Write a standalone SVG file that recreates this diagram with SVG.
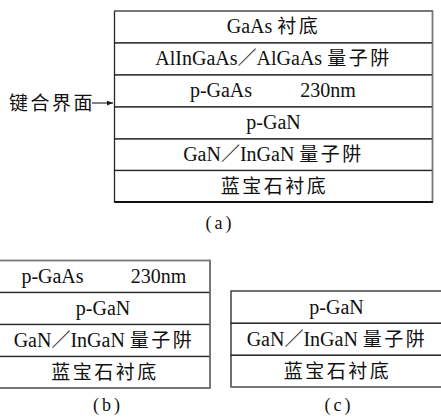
<svg xmlns="http://www.w3.org/2000/svg" width="441" height="417" viewBox="0 0 441 417">
<style>
  .bg{fill:#ffffff}
  .layer{fill:#ffffff;stroke:#262626;stroke-width:1.3}
  .lat{font-family:"Liberation Serif","Times New Roman","DejaVu Serif",serif;font-size:20px;fill:#111}
  .sl{font-family:"Noto Sans CJK SC","Noto Sans CJK JP",sans-serif;font-size:19px}
  .cjk{font-family:"Noto Sans CJK SC","Noto Sans CJK JP",sans-serif;font-size:19px;letter-spacing:2.5px;fill:#111}
  .cap{font-family:"Liberation Serif","Times New Roman","DejaVu Serif",serif;font-size:18px;letter-spacing:3px;fill:#111;text-anchor:middle}
  .mid{text-anchor:middle}
  .conn{stroke:#1a1a1a;stroke-width:1.1;fill:none}
  .edge-light{stroke:#7a7a7a;stroke-width:1.4;fill:none}
  .edge-dark{stroke:#111;stroke-width:2;fill:none}
</style>
<defs>
  <marker id="ah" viewBox="0 0 10 8" refX="10" refY="4" markerWidth="6" markerHeight="5" orient="auto" markerUnits="userSpaceOnUse">
    <path d="M0,0 L10,4 L0,8 Z" fill="#1a1a1a"/>
  </marker>
</defs>
<rect class="bg" x="0" y="0" width="441" height="417"/>

<!-- Panel (a) -->
<g id="panel-a">
  <g id="a-gaas-sub">
    <rect class="layer" x="114.5" y="11" width="318" height="32"/>
    <text class="lat mid" x="273.5" y="33.3">GaAs <tspan class="cjk">衬底</tspan></text>
  </g>
  <g id="a-alingaas-qw">
    <rect class="layer" x="114.5" y="43" width="318" height="32"/>
    <text class="lat mid" x="273.5" y="65.3">AlInGaAs<tspan class="sl">／</tspan>AlGaAs <tspan class="cjk">量子阱</tspan></text>
  </g>
  <g id="a-pgaas">
    <rect class="layer" x="114.5" y="75" width="318" height="32"/>
    <text class="lat mid" x="221" y="97.3">p-GaAs</text>
    <text class="lat mid" x="328" y="97.3">230nm</text>
  </g>
  <g id="a-pgan">
    <rect class="layer" x="114.5" y="107" width="318" height="32"/>
    <text class="lat mid" x="273.5" y="129.3">p-GaN</text>
  </g>
  <g id="a-gan-qw">
    <rect class="layer" x="114.5" y="139" width="318" height="31.5"/>
    <text class="lat mid" x="273.5" y="161">GaN<tspan class="sl">／</tspan>InGaN <tspan class="cjk">量子阱</tspan></text>
  </g>
  <g id="a-sapphire">
    <rect class="layer" x="114.5" y="170.5" width="318" height="31.5"/>
    <text class="cjk mid" x="274.5" y="192.5">蓝宝石衬底</text>
  </g>
  <path class="edge-light" d="M114.5,11 H432.5 V202"/>
  <path class="edge-dark" d="M114.5,202 H433"/>
  <g id="label-bond">
    <text class="cjk" x="9" y="109.5">键合界面</text>
  </g>
  <text class="cap" x="220" y="229">(a)</text>
</g>

<!-- Panel (b) -->
<g id="panel-b">
  <g id="b-pgaas">
    <rect class="layer" x="-2" y="260.5" width="212" height="32"/>
    <text class="lat mid" x="52.5" y="283">p-GaAs</text>
    <text class="lat mid" x="158.5" y="283">230nm</text>
  </g>
  <g id="b-pgan">
    <rect class="layer" x="-2" y="292.5" width="212" height="32"/>
    <text class="lat mid" x="103" y="315">p-GaN</text>
  </g>
  <g id="b-gan-qw">
    <rect class="layer" x="-2" y="324.5" width="212" height="32"/>
    <text class="lat mid" x="104" y="347">GaN<tspan class="sl">／</tspan>InGaN <tspan class="cjk">量子阱</tspan></text>
  </g>
  <g id="b-sapphire">
    <rect class="layer" x="-2" y="356.5" width="212" height="31.5"/>
    <text class="cjk mid" x="105" y="378.5">蓝宝石衬底</text>
  </g>
  <path class="edge-light" d="M0,260.5 H210 V388 H0"/>
  <text class="cap" x="108" y="411">(b)</text>
</g>

<!-- Panel (c) -->
<g id="panel-c">
  <g id="c-pgan">
    <rect class="layer" x="231" y="291" width="212" height="32.3"/>
    <text class="lat mid" x="336.5" y="313.6">p-GaN</text>
  </g>
  <g id="c-gan-qw">
    <rect class="layer" x="231" y="323.3" width="212" height="32"/>
    <text class="lat mid" x="337" y="345.8">GaN<tspan class="sl">／</tspan>InGaN <tspan class="cjk">量子阱</tspan></text>
  </g>
  <g id="c-sapphire">
    <rect class="layer" x="231" y="355.3" width="212" height="31.7"/>
    <text class="cjk mid" x="337.5" y="377.6">蓝宝石衬底</text>
  </g>
  <path class="edge-light" d="M231,387 H441"/>
  <text class="cap" x="339" y="411">(c)</text>
</g>

<g id="connectors">
  <line class="conn" x1="92" y1="103" x2="113" y2="103" marker-end="url(#ah)"/>
</g>
</svg>
